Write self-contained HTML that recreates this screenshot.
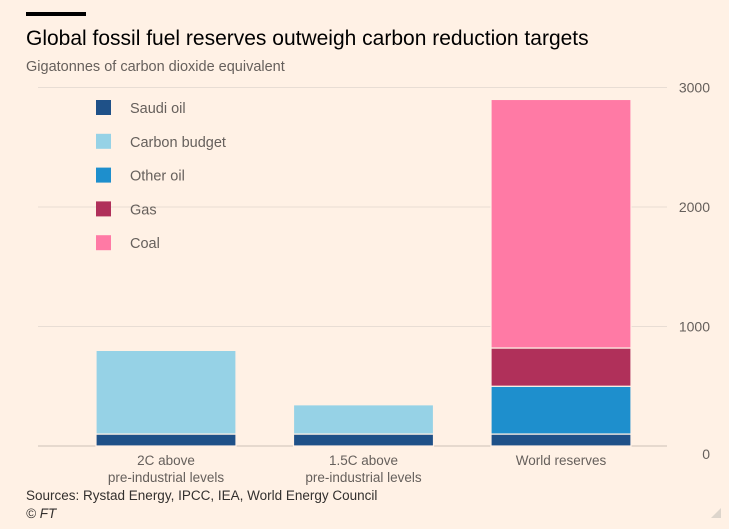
<!DOCTYPE html>
<html><head><meta charset="utf-8"><style>
body{margin:0;background:#fff1e5;font-family:"Liberation Sans",sans-serif;}
svg{display:block}
text{font-family:"Liberation Sans",sans-serif;}
</style></head><body>
<svg id="c" width="729" height="529">
<rect x="26" y="12" width="60" height="4" fill="#000"/>
<text x="26" y="45" font-size="21" fill="#000">Global fossil fuel reserves outweigh carbon reduction targets</text>
<text x="26" y="71" font-size="14.5" fill="#66605c">Gigatonnes of carbon dioxide equivalent</text>
<g id="grid"></g><g id="bars"></g><g id="legend"></g>
<text x="26" y="500" font-size="13.5" fill="#33302e">Sources: Rystad Energy, IPCC, IEA, World Energy Council</text>
<text x="26" y="518" font-size="13.5" fill="#33302e" font-style="italic">© FT</text>
<path d="M721 508 L721 518 L711 518 Z" fill="#ddd5cc"/>
</svg>
<script>
const categories=[["2C above","pre-industrial levels"],["1.5C above","pre-industrial levels"],["World reserves"]];
const seriesNames=["Saudi oil","Carbon budget","Other oil","Gas","Coal"];
const saudiOil=[100,100,100];
const carbonBudget=[700,245,0];
const otherOil=[0,0,400];
const gas=[0,0,320];
const coal=[0,0,2080];
const ticks=[0,1000,2000,3000];
const colors=["#1f5188","#96d2e6","#1e8fcd","#b0305a","#ff7aa5"];
const series=[saudiOil,carbonBudget,otherOil,gas,coal];
const NS="http://www.w3.org/2000/svg";
function y(v){return 446-v*0.1195;}
function bx(i){return 96+i*197.5;}
function mk(t,a,p){const e=document.createElementNS(NS,t);for(const k in a)e.setAttribute(k,a[k]);p.appendChild(e);return e;}
const g=document.getElementById('grid');
ticks.forEach(t=>{
 const l=mk('line',{x1:38,x2:667,y1:y(t),y2:y(t),stroke:t===0?'#ccc1b7':'#e8ddd4','stroke-width':1},g);
 
 
 const tx=mk('text',{x:710,y:y(t)+(t===0?13:5),'text-anchor':'end','font-size':14,fill:'#66605c'},g);
 tx.textContent=t;
 
 
});
const b=document.getElementById('bars');
categories.forEach((c,i)=>{
 let base=0;
 series.forEach((s,j)=>{
  const v=s[i]; if(!v)return;
  const r=mk('rect',{x:bx(i),width:140,y:y(base+v),height:y(base)-y(base+v),fill:colors[j],stroke:'#fff1e5','stroke-width':1.2},b);
  
  
  base+=v;
 });
 c.forEach((line,k)=>{
  const t=mk('text',{x:bx(i)+70,y:465+k*17,'text-anchor':'middle','font-size':13.5,fill:'#66605c'},b);
  t.textContent=line;
  
  
 });
});
const lg=document.getElementById('legend');
seriesNames.forEach((n,j)=>{
 const yy=108+j*33.8;
 const r=mk('rect',{x:96,y:yy-8,width:15,height:15,fill:colors[j]},lg);
 
 
 const t=mk('text',{x:130,y:yy+5,'font-size':14.5,fill:'#66605c'},lg);
 t.textContent=n;
 
 
});
</script>
</body></html>
